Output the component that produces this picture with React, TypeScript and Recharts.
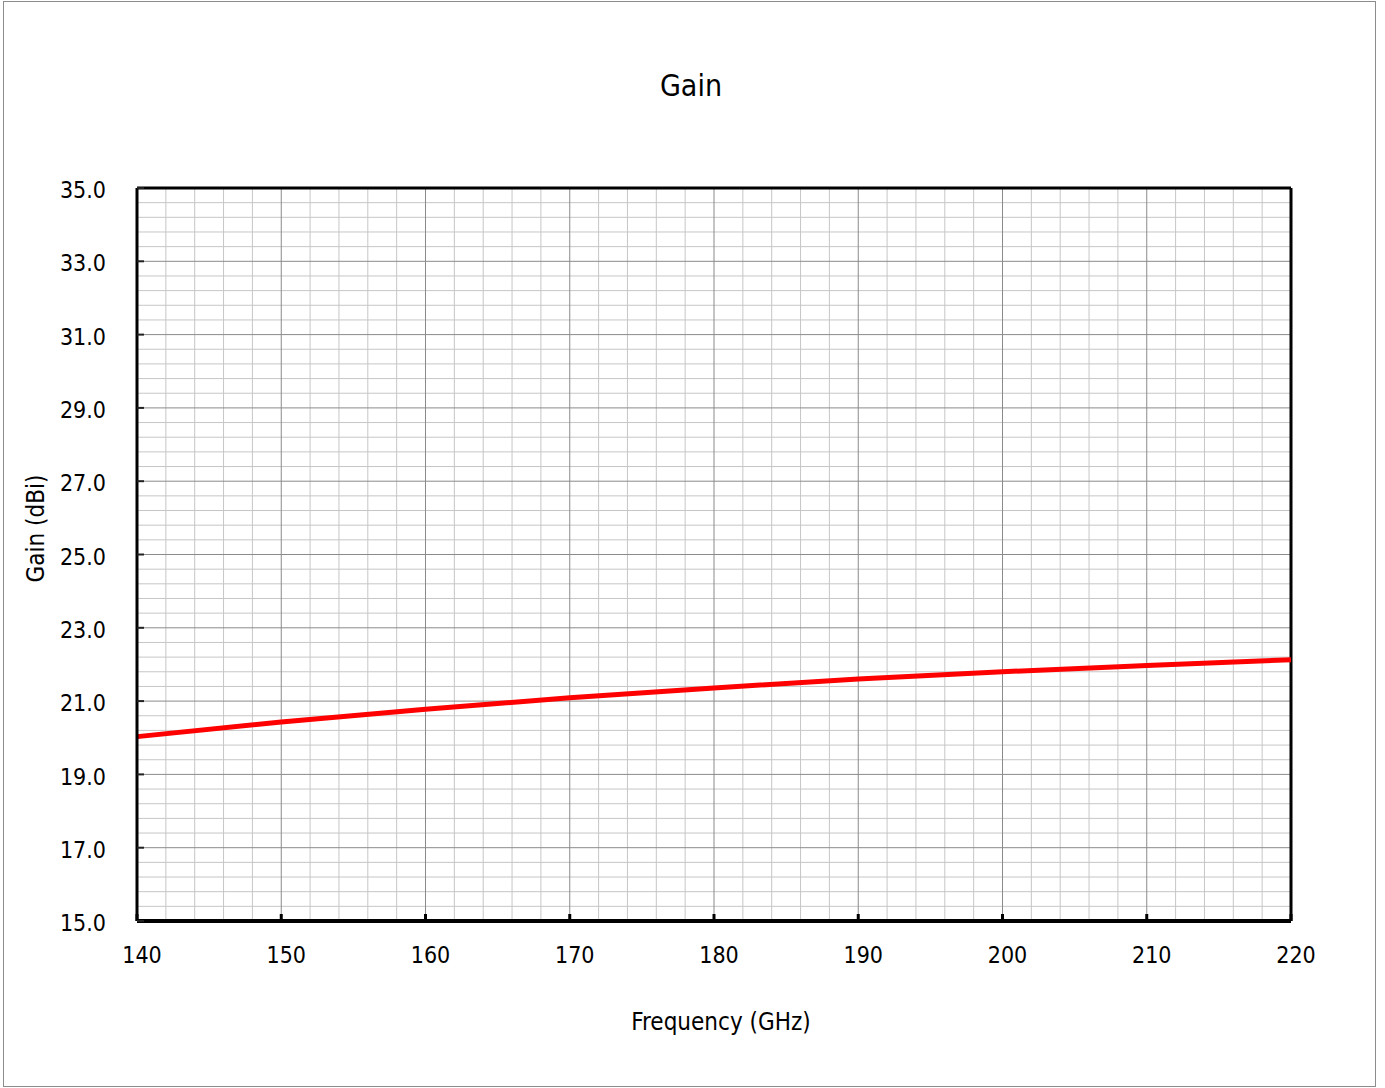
import React from "react";
import {
  Customized,
  Label,
  Line,
  LineChart,
  ReferenceLine,
  XAxis,
  YAxis,
} from "recharts";

const FREQ_GHZ = [140, 150, 160, 170, 180, 190, 200, 210, 220];
const GAIN_DBI = [20.03, 20.43, 20.78, 21.09, 21.36, 21.6, 21.8, 21.97, 22.13];
const X_TICKS = [140, 150, 160, 170, 180, 190, 200, 210, 220];
const Y_TICKS = [15, 17, 19, 21, 23, 25, 27, 29, 31, 33, 35];

const FONT = "'DejaVu Sans Condensed', 'DejaVu Sans', sans-serif";
const W = 1385;
const H = 1088;

const data = FREQ_GHZ.map((f, i) => ({ freq: f, gain: GAIN_DBI[i] }));

// minor grid: every 2 GHz and every 0.4 dB, majors sit on the tick values
const xMinor: number[] = [];
for (let f = 142; f < 220; f += 2) if (f % 10 !== 0) xMinor.push(f);
const yMinor: number[] = [];
for (let k = 1; k < 50; k++) if (k % 5 !== 0) yMinor.push(+(15 + k * 0.4).toFixed(1));

const MINOR = "#c6c6c6";
const MAJOR = "#8a8a8a";

function Title() {
  return (
    <text x={691} y={96} textAnchor="middle" fontSize={30} fontFamily={FONT} fill="#000">
      Gain
    </text>
  );
}

export default function App() {
  return (
    <div style={{ position: "absolute", left: 0, top: 0, width: W, height: H, background: "#fff" }}>
      <div
        style={{
          position: "absolute",
          left: 3,
          top: 1,
          width: 1373,
          height: 1086,
          boxSizing: "border-box",
          border: "1.5px solid #8c8c8c",
        }}
      />
      <div style={{ position: "absolute", left: 0, top: 0 }}>
        <LineChart
          width={W}
          height={H}
          data={data}
          margin={{ top: 188, right: 94, left: 57, bottom: 107 }}
          style={{ fontFamily: FONT }}
        >
          <XAxis
            type="number"
            dataKey="freq"
            domain={[140, 220]}
            ticks={X_TICKS}
            allowDataOverflow
            height={60}
            axisLine={{ stroke: "#000", strokeWidth: 4 }}
            tickLine={{ stroke: "#000", strokeWidth: 3 }}
            tickSize={-7}
            tickMargin={33}
            tick={{ fill: "#000", fontSize: 23, dx: 5 }}
          >
            <Label
              content={({ viewBox }: any) => (
                <text
                  x={viewBox.x + viewBox.width / 2 + 7}
                  y={viewBox.y + 109}
                  textAnchor="middle"
                  fontSize={24}
                  fontFamily={FONT}
                  fill="#000"
                >
                  Frequency (GHz)
                </text>
              )}
            />
          </XAxis>
          <YAxis
            type="number"
            domain={[15, 35]}
            ticks={Y_TICKS}
            allowDataOverflow
            width={80}
            tickFormatter={(v: number) => v.toFixed(1)}
            axisLine={{ stroke: "#000", strokeWidth: 3 }}
            tickLine={{ stroke: "#222", strokeWidth: 2 }}
            tickSize={-7}
            tickMargin={38}
            tick={{ fill: "#000", fontSize: 23, dy: 2 }}
          >
            <Label
              content={({ viewBox }: any) => {
                const cx = viewBox.x - 21;
                const cy = viewBox.y + viewBox.height / 2 - 26;
                return (
                  <text
                    x={cx}
                    y={cy}
                    transform={`rotate(-90, ${cx}, ${cy})`}
                    textAnchor="middle"
                    dominantBaseline="central"
                    fontSize={24}
                    fontFamily={FONT}
                    fill="#000"
                  >
                    Gain (dBi)
                  </text>
                );
              }}
            />
          </YAxis>
          {xMinor.map((f) => (
            <ReferenceLine key={`xm${f}`} x={f} stroke={MINOR} strokeWidth={1} />
          ))}
          {yMinor.map((g) => (
            <ReferenceLine key={`ym${g}`} y={g} stroke={MINOR} strokeWidth={1} />
          ))}
          {X_TICKS.slice(1, -1).map((f) => (
            <ReferenceLine key={`xM${f}`} x={f} stroke={MAJOR} strokeWidth={1} />
          ))}
          {Y_TICKS.slice(1, -1).map((g) => (
            <ReferenceLine key={`yM${g}`} y={g} stroke={MAJOR} strokeWidth={1} />
          ))}
          <ReferenceLine y={35} stroke="#000" strokeWidth={3} />
          <ReferenceLine x={220} stroke="#000" strokeWidth={3} />
          <Line
            type="monotone"
            dataKey="gain"
            stroke="#ff0000"
            strokeWidth={5}
            dot={false}
            isAnimationActive={false}
          />
          <Customized component={Title} />
        </LineChart>
      </div>
    </div>
  );
}
